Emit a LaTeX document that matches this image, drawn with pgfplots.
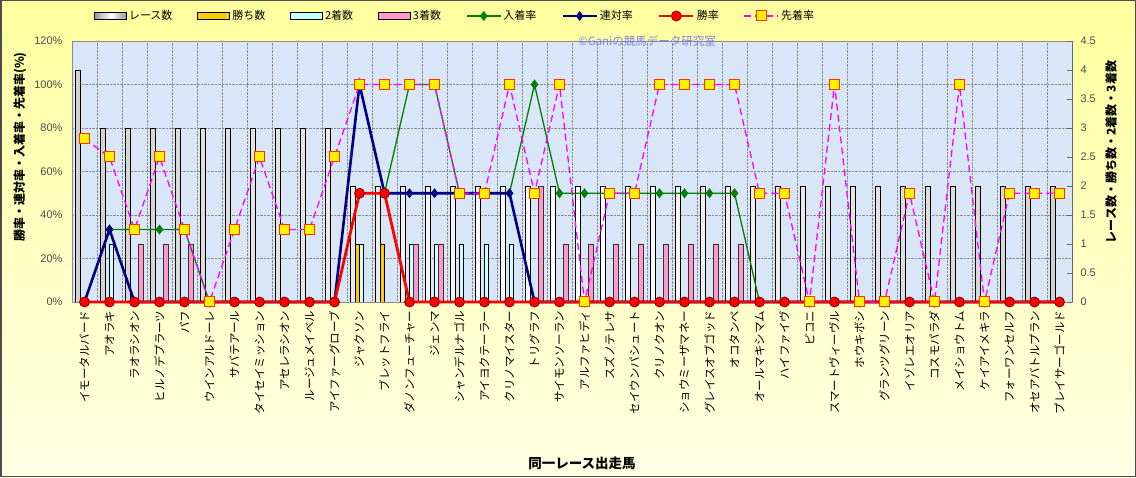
\documentclass[border=0pt]{standalone}
\usepackage{fontspec}
\setmainfont{Liberation Sans}
\newfontfamily\jp{Noto Sans CJK JP}
\usepackage{pgfplots}
\usepackage{pgfplotstable}
\pgfplotsset{compat=1.18}

\definecolor{plotbg}{HTML}{D9E6F7}
\definecolor{bgtop}{HTML}{FFFF9E}
\definecolor{bgbot}{HTML}{FFFFE4}
\definecolor{winc}{HTML}{FFCC00}
\definecolor{secc}{HTML}{CCFFFF}
\definecolor{thrc}{HTML}{FF99CC}
\definecolor{placec}{HTML}{008000}
\definecolor{rentaic}{HTML}{000080}
\definecolor{senc}{HTML}{FF00FF}
\definecolor{sqedge}{HTML}{FF3300}
\definecolor{wmark}{HTML}{8080EE}

\pgfplotsset{
  common/.style={scale only axis, width=1000pt, height=261pt,
    at={(72pt,175pt)}, anchor=south west, xmin=-0.5, xmax=39.5},
  barleg/.style={legend image code/.code={\draw[##1] (0pt,-3.5pt) rectangle (32pt,3.5pt);}},
}

\pgfplotstableread{
x R W S T P Q V F
0 4 0 0 0 0 0 0 75
1 3 0 1 0 33.33 33.33 0 66.67
2 3 0 0 1 33.33 0 0 33.33
3 3 0 0 1 33.33 0 0 66.67
4 3 0 0 1 33.33 0 0 33.33
5 3 0 0 0 0 0 0 0
6 3 0 0 0 0 0 0 33.33
7 3 0 0 0 0 0 0 66.67
8 3 0 0 0 0 0 0 33.33
9 3 0 0 0 0 0 0 33.33
10 3 0 0 0 0 0 0 66.67
11 2 1 1 0 100 100 50 100
12 2 1 0 0 50 50 50 100
13 2 0 1 1 100 50 0 100
14 2 0 1 1 100 50 0 100
15 2 0 1 0 50 50 0 50
16 2 0 1 0 50 50 0 50
17 2 0 1 0 50 50 0 100
18 2 0 0 2 100 0 0 50
19 2 0 0 1 50 0 0 100
20 2 0 0 1 50 0 0 0
21 2 0 0 1 50 0 0 50
22 2 0 0 1 50 0 0 50
23 2 0 0 1 50 0 0 100
24 2 0 0 1 50 0 0 100
25 2 0 0 1 50 0 0 100
26 2 0 0 1 50 0 0 100
27 2 0 0 0 0 0 0 50
28 2 0 0 0 0 0 0 50
29 2 0 0 0 0 0 0 0
30 2 0 0 0 0 0 0 100
31 2 0 0 0 0 0 0 0
32 2 0 0 0 0 0 0 0
33 2 0 0 0 0 0 0 50
34 2 0 0 0 0 0 0 0
35 2 0 0 0 0 0 0 100
36 2 0 0 0 0 0 0 0
37 2 0 0 0 0 0 0 50
38 2 0 0 0 0 0 0 50
39 2 0 0 0 0 0 0 50
}\data

\begin{document}
\begin{tikzpicture}[x=1pt,y=1pt]
\shade[top color=bgtop, bottom color=bgbot] (0,0) rectangle (1136,477);
\draw[black!70, line width=1.5pt] (0.75,0.75) rectangle (1135.25,476.25);

% axis 1: background, grid, left ticks, category labels
\begin{axis}[common, ymin=0, ymax=120,
  axis background/.style={fill=plotbg},
  axis line style={black!45},
  ytick={0,20,...,120},
  yticklabel={\pgfmathparse{int(\tick)}\pgfmathresult\%},
  yticklabel style={font=\fontsize{11}{12}\selectfont, text=black!70, xshift=-6pt},
  xtick={0,...,39},
  minor xtick={0.5,1.5,...,38.5},
  major tick length=0pt, minor tick length=0pt,
  xminorgrids=true, ymajorgrids=true, xmajorgrids=false,
  major grid style={densely dotted, black!45, line width=0.7pt},
  minor grid style={densely dotted, black!45, line width=0.7pt},
  xticklabels={イモータルバード,アオラキ,ラオラシオン,ヒルノデプラーツ,パフ,ウインアルドーレ,サバテアール,タイセイミッション,アセレラシオン,ルージュメイベル,アイファーグローブ,ジャクソン,ブレットフライ,ダノンフューチャー,ジェンマ,シャンデルナゴル,アイヨクテーラー,クリノマイスター,トリグラフ,サイモンソーラン,アルファヒディ,スズノテレサ,セイウンパシュート,クリノクオン,ショウミーザマネー,グレイスオブゴッド,オコタンペ,オールマキシマム,ハイファイヴ,ピコニ,スマートヴィーヴル,ホウキボシ,グランツグリーン,イゾレエオリア,コスモパラダ,メイショウトム,ケイアイメキラ,フォーワンセルフ,オセアバトルプラン,プレイサーゴールド},
  xticklabel style={rotate=90, anchor=east, font=\jp\fontsize{11.5}{12}\selectfont, xshift=-5pt},
]
\end{axis}

% axis 2: bars on right axis
\begin{axis}[common, ymin=0, ymax=4.5,
  axis y line*=right, axis x line=none,
  axis line style={black!60},
  ytick={0,0.5,...,4.5},
  tick align=inside, major tick length=5pt,
  ytick style={black!60},
  yticklabel style={font=\fontsize{11}{12}\selectfont, text=black!70, xshift=5pt, /pgf/number format/assume math mode=true},
]
\addplot[ybar, bar width=0.175, bar shift=-0.2625, draw=black, line width=0.8pt, left color=black!18, right color=black!18, middle color=white] table[x=x, y=R] {\data};
\addplot[ybar, bar width=0.175, bar shift=-0.0875, draw=black, line width=0.8pt, fill=winc] table[x=x, y=W] {\data};
\addplot[ybar, bar width=0.175, bar shift=0.0875, draw=black, line width=0.8pt, fill=secc] table[x=x, y=S] {\data};
\addplot[ybar, bar width=0.175, bar shift=0.2625, draw=black!80, line width=0.8pt, fill=thrc] table[x=x, y=T] {\data};
\end{axis}

% axis 3: rate lines
\begin{axis}[common, ymin=0, ymax=120, hide axis, clip=false,
  legend image code/.code={\draw[mark repeat=2, mark phase=2, #1] plot coordinates {(0pt,0pt) (17pt,0pt) (34pt,0pt)};},
  legend columns=8,
  legend style={at={(0.022,1.0958)}, anchor=west, draw=none, fill=none, inner sep=0pt,
    font=\jp\fontsize{11}{12}\selectfont,
    /tikz/every even column/.append style={column sep=23pt}},
  legend cell align=left,
]
\addlegendimage{barleg, draw=black, line width=0.8pt, left color=black!40, right color=black!40, middle color=white}
\addlegendentry{レース数}
\addlegendimage{barleg, draw=black, line width=0.8pt, fill=winc}
\addlegendentry{勝ち数}
\addlegendimage{barleg, draw=black, line width=0.8pt, fill=secc}
\addlegendentry{2着数}
\addlegendimage{barleg, draw=black, line width=0.8pt, fill=thrc}
\addlegendentry{3着数}
\addplot[placec, line width=1.3pt, mark=diamond*, mark size=4pt, mark options={fill=placec}] table[x=x, y=P] {\data};
\addlegendentry{入着率}
\addplot[rentaic, line width=2.6pt, mark=diamond*, mark size=4.5pt, mark options={fill=rentaic, line width=0.5pt}] table[x=x, y=Q] {\data};
\addlegendentry{連対率}
\addplot[red, line width=2.8pt, mark=*, mark size=5pt, mark options={fill=red, draw=red!50!black, line width=0.8pt}] table[x=x, y=V] {\data};
\addlegendentry{勝率}
\addplot[senc, line width=1.3pt, dash pattern=on 7pt off 4pt, mark=square*, mark size=5pt, mark options={solid, fill=yellow, draw=sqedge, line width=1pt}] table[x=x, y=F] {\data};
\addlegendentry{先着率}
\end{axis}

\node[text=wmark, font=\jp\fontsize{11.5}{12}\selectfont] at (647,436) {©Ganiの競馬データ研究室};
\node[rotate=90, font=\jp\bfseries\fontsize{12}{13}\selectfont] at (20,330) {勝率・連対率・入着率・先着率(\%)};
\node[rotate=90, font=\jp\bfseries\fontsize{12}{13}\selectfont] at (1111,325) {レース数・勝ち数・2着数・3着数};
\node[font=\jp\bfseries\fontsize{13.5}{14}\selectfont] at (582,14) {同一レース出走馬};
\pgfresetboundingbox
\useasboundingbox (0,0) rectangle (1136,477);
\end{tikzpicture}
\end{document}
